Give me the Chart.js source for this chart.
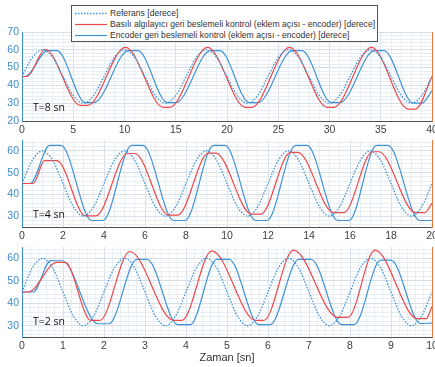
<!DOCTYPE html>
<html>
<head>
<meta charset="utf-8">
<script src="https://cdn.jsdelivr.net/npm/chart.js@4"></script>
<style>
body { margin: 0; width: 435px; height: 367px; overflow: hidden; position: relative; background: #fff; font-family: "Liberation Sans", Arial, sans-serif; }
canvas { position: absolute; left: 0; }
#c1 { top: 0; }
#c2 { top: 137px; }
#c3 { top: 243px; }
.etiket { position: absolute; left: 33px; font-family: "Open Sans", sans-serif; font-size: 10.5px; color: #111; line-height: 12px; }
#legend { position: absolute; left: 71px; top: 5px; width: 305px; height: 35px; border: 1px solid #555; background: #fff; font-size: 8.6px; color: #333; z-index: 2; }
.satir { position: absolute; left: 0; height: 11px; line-height: 11px; white-space: nowrap; }
.satir svg { position: absolute; left: 0; top: 0; }
.satir span { position: absolute; left: 38px; top: 0; }
</style>
</head>
<body>
<canvas id="c1" width="435" height="137"></canvas>
<canvas id="c2" width="435" height="106"></canvas>
<canvas id="c3" width="435" height="124"></canvas>

<div id="legend">
  <div class="satir" style="top:2px"><svg width="38" height="11"><line x1="3" y1="5.5" x2="35" y2="5.5" stroke="#3f93d6" stroke-width="1.3" stroke-dasharray="1.5 1.5"/></svg><span>Referans [derece]</span></div>
  <div class="satir" style="top:13px"><svg width="38" height="11"><line x1="3" y1="5.5" x2="35" y2="5.5" stroke="#f04848" stroke-width="1.2"/></svg><span>Basılı algılayıcı geri beslemeli kontrol (eklem açısı - encoder) [derece]</span></div>
  <div class="satir" style="top:24px"><svg width="38" height="11"><line x1="3" y1="5.5" x2="35" y2="5.5" stroke="#3f93d6" stroke-width="1.2"/></svg><span>Encoder geri beslemeli kontrol (eklem açısı - encoder) [derece]</span></div>
</div>

<div class="etiket" style="top:101px">T=8 sn</div>
<div class="etiket" style="top:208px">T=4 sn</div>
<div class="etiket" style="top:315px">T=2 sn</div>

<script>
// zaman [sn], aci [derece]

// referans: T/8 araliklarla
const refT8 = [0,1,2,3,4,5,6,7,8,9,10,11,12,13,14,15,16,17,18,19,20,21,22,23,24,25,26,27,28,29,30,31,32,33,34,35,36,37,38,39,40];
const refT4 = [0,0.5,1,1.5,2,2.5,3,3.5,4,4.5,5,5.5,6,6.5,7,7.5,8,8.5,9,9.5,10,10.5,11,11.5,12,12.5,13,13.5,14,14.5,15,15.5,16,16.5,17,17.5,18,18.5,19,19.5,20];
const refT2 = [0,0.25,0.5,0.75,1,1.25,1.5,1.75,2,2.25,2.5,2.75,3,3.25,3.5,3.75,4,4.25,4.5,4.75,5,5.25,5.5,5.75,6,6.25,6.5,6.75,7,7.25,7.5,7.75,8,8.25,8.5,8.75,9,9.25,9.5,9.75,10];
const referans = [45,55.6,60,55.6,45,34.4,30,34.4,
                  45,55.6,60,55.6,45,34.4,30,34.4,
                  45,55.6,60,55.6,45,34.4,30,34.4,
                  45,55.6,60,55.6,45,34.4,30,34.4,
                  45,55.6,60,55.6,45,34.4,30,34.4,
                  45];

// basili algilayici (kirmizi): tepe / dip noktalari
const basiliT8 = [0,0.5,2.25,5.7,6.4,10.1,13.8,14.4,18.1,21.8,22.4,26.1,29.8,30.4,34.1,37.7,38.4,40];
const basiliV8 = [45,45,60.3,28.8,28.8,61.4,27.7,27.7,61.4,27.7,27.7,61.4,27.7,27.7,61.4,26.7,26.7,45];
const basiliT4 = [0,0.55,1.1,1.7,3.1,3.6,5.15,5.5,7.15,7.6,9.1,9.45,11.2,11.65,13.1,13.45,15.2,15.7,17.1,17.4,19.2,19.65,20];
const basiliV4 = [45,45,55.5,55.5,30.1,30.1,58.8,58.8,30.5,30.5,59,59,30.9,30.9,59.3,59.3,31.6,31.6,59.6,59.6,31.6,31.6,36];
const basiliT2 = [0,0.15,0.85,1.05,1.68,1.9,2.63,3.7,3.9,4.63,5.7,5.9,6.62,7.7,7.95,8.61,9.64,9.86,10];
const basiliV2 = [45,45,58.2,58.2,32.4,32.4,63,32.4,32.4,63.3,32.4,32.4,63.6,33.7,33.7,63.6,33.2,33.2,38.5];

// encoder (mavi duz cizgi)
const encoderT8 = [0,0.3,2.5,3.4,6.2,7.0,10.4,11.3,14.2,15.0,18.4,19.3,22.2,23.0,26.4,27.3,30.2,31.0,34.4,35.3,38.2,39.0,40];
const encoderV8 = [45,45,59.5,59.5,30.3,30.3,59.5,59.5,30.3,30.3,59.5,59.5,30.3,30.3,59.5,59.5,30.3,30.3,59.5,59.5,30,30,37];
const encoderT4 = [0,0.4,1.35,1.9,3.4,3.95,5.35,5.9,7.4,7.95,9.35,9.9,11.4,11.95,13.35,13.9,15.4,15.95,17.3,17.85,19.4,19.95,20];
const encoderV4 = [45,45,62.5,62.5,28,28,62.5,62.5,28,28,62.5,62.5,28,28,62.5,62.5,28,28,62.5,62.5,28,28,28.3];
const encoderT2 = [0,0.27,0.7,0.98,1.85,2.12,2.8,3.05,3.8,4.1,4.75,5.05,5.78,6.05,6.75,7.05,7.8,8.1,8.75,9.0,9.72,10];
const encoderV2 = [45,45,58.9,58.9,30.9,30.9,59.5,59.5,30.5,30.5,59.5,59.5,30.5,30.5,59.5,59.5,30.5,30.5,59.2,59.2,31,31.2];

const mavi = '#3f93d6';
const kirmizi = '#f04848';

const pairs = (t, v) => t.map((x, i) => ({x: x, y: v[i]}));
const isMajor = (v, m) => Math.abs(v / m - Math.round(v / m)) < 1e-6;

// y ekseni: her 2 derecede bir ara cizgi
function yTicks(s) {
    s.ticks = [];
    for (let v = Math.ceil(s.min / 2) * 2; v <= s.max; v += 2) s.ticks.push({ value: v });
}

function grafik(id, o) {
    new Chart(document.getElementById(id), {
        type: 'line',
        data: {
            datasets: [
                { data: pairs(o.refT, referans), borderColor: mavi, borderWidth: 1.3, borderDash: [1.5, 1.5] },
                { data: pairs(o.redT, o.redV), borderColor: kirmizi, borderWidth: 1.2 },
                { data: pairs(o.blueT, o.blueV), borderColor: mavi, borderWidth: 1.2 }
            ]
        },
        options: {
            responsive: false,
            animation: false,
            layout: { padding: { top: o.padTop, right: 3, left: 0, bottom: 0 } },
            elements: {
                point: { radius: 0 },
                line: { cubicInterpolationMode: 'monotone' }
            },
            plugins: { legend: { display: false }, tooltip: { enabled: false } },
            scales: {
                x: {
                    type: 'linear', min: 0, max: o.xMax,
                    ticks: {
                        stepSize: o.minor, maxTicksLimit: 1000, autoSkip: false, maxRotation: 0,
                        color: '#404040', padding: 3,
                        font: { size: 10.5, family: '"Liberation Sans", Arial' },
                        callback: v => isMajor(v, o.major) ? v : ''
                    },
                    grid: {
                        drawTicks: false,
                        color: c => isMajor(c.tick.value, o.major) ? '#d6dfea' : '#e9eef5'
                    },
                    border: { color: '#505050' },
                    title: {
                        display: !!o.title, text: o.title || '', color: '#333',
                        font: { size: 11, family: '"Liberation Sans", Arial' },
                        padding: { top: 0, bottom: 2 }
                    },
                    afterFit: s => { s.height = o.xH; s.paddingLeft = 0; s.paddingRight = 0; }
                },
                y: {
                    min: o.yMin, max: o.yMax,
                    afterBuildTicks: yTicks,
                    ticks: {
                        autoSkip: false,
                        color: '#3b8bd0', padding: 3,
                        font: { size: 10.5, family: '"Liberation Sans", Arial' },
                        callback: v => isMajor(v, 10) ? v : ''
                    },
                    grid: {
                        drawTicks: false,
                        color: c => isMajor(c.tick.value, 10) ? '#d6dfea' : '#e9eef5'
                    },
                    border: { color: '#3b8bd0' },
                    afterFit: s => { s.width = 22; s.paddingTop = 0; s.paddingBottom = 0; }
                },
                y2: {
                    position: 'right', min: 0, max: 1,
                    ticks: { display: false },
                    grid: { display: false, drawTicks: false },
                    border: { color: '#e8773f' },
                    afterFit: s => { s.width = 0; }
                }
            }
        }
    });
}

grafik('c1', { refT: refT8, redT: basiliT8, redV: basiliV8, blueT: encoderT8, blueV: encoderV8,
               xMax: 40, major: 5, minor: 1, yMin: 20, yMax: 70, padTop: 32, xH: 16 });
grafik('c2', { refT: refT4, redT: basiliT4, redV: basiliV4, blueT: encoderT4, blueV: encoderV4,
               xMax: 20, major: 2, minor: 0.5, yMin: 25, yMax: 65, padTop: 3, xH: 16 });
grafik('c3', { refT: refT2, redT: basiliT2, redV: basiliV2, blueT: encoderT2, blueV: encoderV2,
               xMax: 10, major: 1, minor: 0.2, yMin: 25, yMax: 65, padTop: 4, xH: 30, title: 'Zaman [sn]' });
</script>
</body>
</html>
